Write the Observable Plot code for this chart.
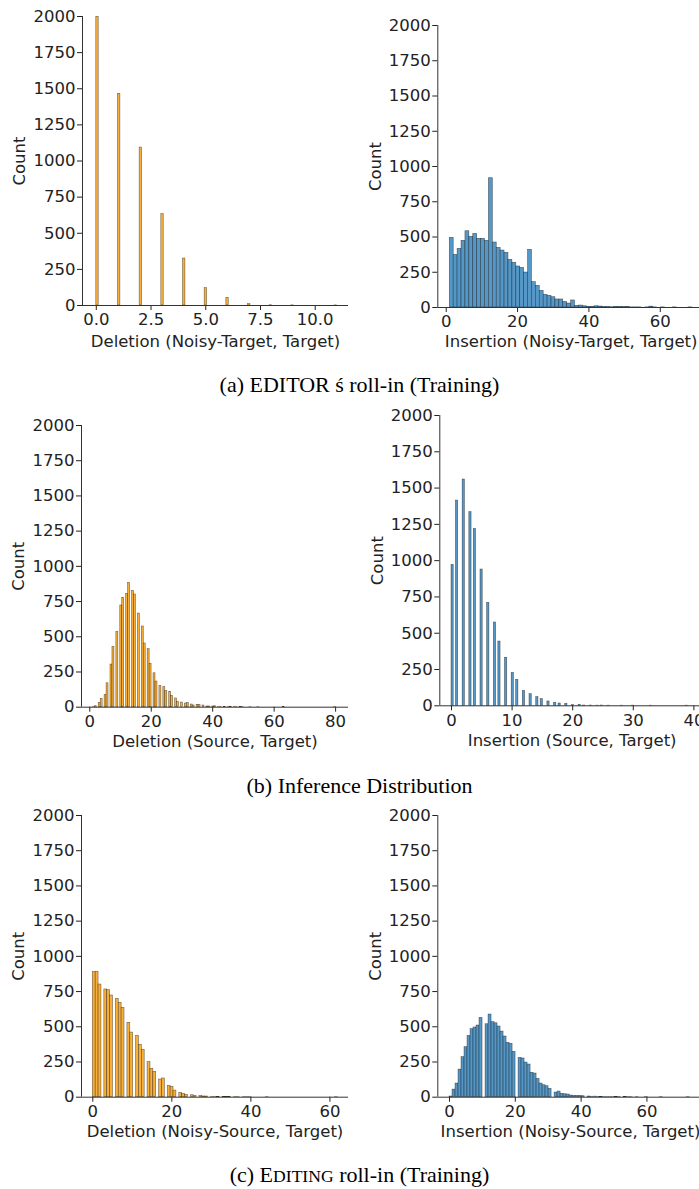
<!DOCTYPE html>
<html><head><meta charset="utf-8">
<script src="https://cdn.jsdelivr.net/npm/d3@7"></script>
<script src="https://cdn.jsdelivr.net/npm/@observablehq/plot@0.6"></script>
<style>
html,body{margin:0;padding:0;background:#fff;overflow:hidden;}
#root{position:relative;width:699px;height:1189px;overflow:hidden;background:#fff;}
.panel{position:absolute;}
.cap{position:absolute;left:0;width:719px;text-align:center;font-family:"Liberation Serif","Times New Roman",serif;font-size:22px;line-height:26px;color:#000;white-space:nowrap;}
.sc{font-size:0.8em;}
</style></head><body><div id="root"></div>
<script>
// ---------- DATA (integer edit distances and their counts) ----------
// (a) EDITOR's roll-in : Deletion (Noisy-Target, Target)
const delNoisyTargetValues = [0, 1, 2, 3, 4, 5, 6, 7, 8, 9, 11];
const delNoisyTargetCounts = [1998, 1465, 1093, 632, 325, 120, 53, 9, 2, 1, 1];
// (a) Insertion (Noisy-Target, Target)
const insNoisyTargetValues = [1, 2, 3, 4, 5, 6, 7, 8, 9, 10, 11, 12, 13, 14, 15, 16, 17, 18, 19, 20,
  21, 22, 23, 24, 25, 26, 27, 28, 29, 30, 31, 32, 33, 34, 35, 36, 37, 38, 39, 40,
  41, 42, 43, 44, 45, 46, 47, 48, 49, 50, 51, 52, 53, 54, 56, 57, 58, 59, 61, 64, 69];
const insNoisyTargetCounts = [250, 244, 373, 416, 473, 541, 501, 522, 487, 487, 473, 465, 452, 461, 423, 404, 388, 338, 317, 291,
  281, 248, 215, 194, 180, 154, 118, 90, 83, 73, 57, 57, 40, 28, 27, 23, 12, 14, 9, 5,
  5, 9, 7, 3, 3, 1, 1, 4, 4, 3, 4, 1, 1, 1, 1, 1, 5, 1, 1, 1, 1];
// (b) Inference : Deletion (Source, Target)
const delSourceValues = [1, 2, 3, 4, 5, 6, 7, 8, 9, 10, 11, 12, 13, 14, 15, 16, 17, 18, 19, 20,
  21, 22, 23, 24, 25, 26, 27, 28, 29, 30, 31, 32, 33, 34, 35, 36, 37, 38, 39, 40,
  41, 42, 43, 44, 45, 46, 47, 48, 49, 50, 52, 55, 63, 80];
const delSourceCounts = [1, 7, 31, 59, 88, 170, 303, 428, 535, 722, 776, 805, 883, 826, 800, 665, 573, 452, 412, 308,
  241, 182, 151, 142, 114, 109, 80, 62, 36, 33, 26, 31, 19, 12, 17, 17, 12, 5, 5, 5,
  7, 3, 3, 2, 3, 2, 3, 1, 2, 3, 1, 1, 2, 1];
// (b) Insertion (Source, Target)
const insSourceValues = [0, 1, 2, 3, 4, 5, 6, 7, 8, 9, 10, 11, 12, 13, 14, 15, 16, 17, 18, 19,
  20, 21, 22, 23, 24, 25, 26, 28, 30, 33, 39];
const insSourceCounts = [971, 1414, 1559, 1334, 1219, 939, 709, 574, 443, 331, 227, 179, 103, 80, 60, 46, 30, 21, 16, 14,
  5, 7, 2, 2, 1, 2, 1, 1, 1, 1, 1];
// (c) EDITING roll-in : Deletion (Noisy-Source, Target)
const delNoisySourceValues = [0, 1, 2, 3, 4, 5, 6, 7, 8, 9, 10, 11, 12, 13, 14, 15, 16, 17, 18, 19,
  20, 21, 22, 23, 24, 25, 26, 27, 28, 29, 30, 31, 32, 33, 34, 35, 36, 37, 38, 39, 40, 44, 62];
const delNoisySourceCounts = [888, 890, 800, 765, 760, 722, 698, 670, 634, 528, 459, 435, 372, 336, 249, 201, 180, 125, 133, 80,
  73, 47, 31, 24, 17, 14, 9, 9, 5, 5, 3, 3, 2, 2, 2, 2, 1, 1, 1, 1, 1, 1, 1];
// (c) Insertion (Noisy-Source, Target)
const insNoisySourceValues = [0, 1, 2, 3, 4, 5, 6, 7, 8, 9, 10, 11, 12, 13, 14, 15, 16, 17, 18, 19,
  20, 21, 22, 23, 24, 25, 26, 27, 28, 29, 30, 31, 32, 33, 34, 35, 36, 37, 38, 39,
  40, 41, 42, 43, 44, 45, 46, 47, 48, 49, 50, 51, 52, 53, 54, 55, 57, 60, 64, 73];
const insNoisySourceCounts = [5, 54, 97, 196, 284, 355, 435, 483, 495, 509, 563, 518, 587, 533, 525, 502, 466, 431, 386, 379,
  322, 279, 275, 246, 232, 173, 168, 130, 97, 85, 78, 59, 33, 40, 24, 21, 19, 12, 9, 9,
  9, 7, 5, 3, 4, 3, 2, 1, 1, 1, 1, 2, 3, 2, 1, 1, 1, 1, 1, 1];

// histogram bin specifications [low, high, number of bins]
const binsDelNoisyTarget = [0, 11, 100];
const binsInsNoisyTarget = [1, 69, 62];
const binsDelSource = [1, 80, 124];
const binsInsSource = [0, 39, 106];
const binsDelNoisySource = [0, 62, 85];
const binsInsNoisySource = [0, 73, 80];

const yTicks = [0, 250, 500, 750, 1000, 1250, 1500, 1750, 2000];
const xTicksDelNoisyTarget = [0, 2.5, 5, 7.5, 10];
const xTicks20to60 = [0, 20, 40, 60];
const xTicks20to80 = [0, 20, 40, 60, 80];
const xTicks10to40 = [0, 10, 20, 30, 40];

const xLabels = ["Deletion (Noisy-Target, Target)", "Insertion (Noisy-Target, Target)",
  "Deletion (Source, Target)", "Insertion (Source, Target)",
  "Deletion (Noisy-Source, Target)", "Insertion (Noisy-Source, Target)"];
const captions = ["(a) EDITOR ś roll-in (Training)", "(b) Inference Distribution",
  "(c) E<span class=\"sc\">DITING</span> roll-in (Training)"];

// ---------- rendering ----------
const ORANGE = "#f9b03a";
const BLUE = "#5597c6";

function histogram(values, counts, [lo, hi, n]) {
  const w = (hi - lo) / n;
  const sums = new Map();
  values.forEach((v, i) => {
    let k = Math.floor((v - lo) / w + 1e-9);
    if (k >= n) k = n - 1;
    sums.set(k, (sums.get(k) || 0) + counts[i]);
  });
  return Array.from(sums, ([k, c]) => ({x1: lo + k * w, x2: lo + (k + 1) * w, count: c}));
}

const panels = [
  {v: delNoisyTargetValues, c: delNoisyTargetCounts, b: binsDelNoisyTarget, color: ORANGE, ticks: xTicksDelNoisyTarget, fmt: ".1f",
   left: 0, top: 0, width: 350, height: 360, ml: 82, mr: 2, mt: 16, mb: 55, dom: [-0.63, 11.52], lo: 41},
  {v: insNoisyTargetValues, c: insNoisyTargetCounts, b: binsInsNoisyTarget, color: BLUE, ticks: xTicks20to60, fmt: "d",
   left: 350, top: 0, width: 360, height: 360, ml: 87.3, mr: 6, mt: 25, mb: 53, dom: [-2.36, 72.4], lo: 39},
  {v: delSourceValues, c: delSourceCounts, b: binsDelSource, color: ORANGE, ticks: xTicks20to80, fmt: "d",
   left: 0, top: 400, width: 350, height: 360, ml: 81, mr: 2, mt: 25, mb: 53.3, dom: [-2.7, 84.2], lo: 40},
  {v: insSourceValues, c: insSourceCounts, b: binsInsSource, color: BLUE, ticks: xTicks10to40, fmt: "d",
   left: 350, top: 400, width: 360, height: 360, ml: 89.3, mr: 6, mt: 15, mb: 54.7, dom: [-1.93, 41.75], lo: 40},
  {v: delNoisySourceValues, c: delNoisySourceCounts, b: binsDelNoisySource, color: ORANGE, ticks: xTicks20to60, fmt: "d",
   left: 0, top: 790, width: 350, height: 360, ml: 81, mr: 2, mt: 25, mb: 53.3, dom: [-2.86, 64.7], lo: 40},
  {v: insNoisySourceValues, c: insNoisySourceCounts, b: binsInsNoisySource, color: BLUE, ticks: xTicks20to60, fmt: "d",
   left: 350, top: 790, width: 360, height: 360, ml: 87.3, mr: 7.3, mt: 25, mb: 53.3, dom: [-3.56, 77.1], lo: 40}
];

const root = document.getElementById("root");
panels.forEach((p, i) => {
  const data = histogram(p.v, p.c, p.b);
  const chart = Plot.plot({
    width: p.width, height: p.height,
    marginLeft: p.ml, marginRight: p.mr, marginTop: p.mt, marginBottom: p.mb,
    style: {fontFamily: "'DejaVu Sans', sans-serif", fontSize: "16.5px", color: "#222", background: "transparent", overflow: "visible"},
    x: {domain: p.dom, ticks: p.ticks, tickFormat: d3.format(p.fmt), tickSize: 5, tickPadding: 3,
        label: xLabels[i], labelAnchor: "center", labelOffset: p.lo, labelArrow: "none"},
    y: {domain: [0, 2000], ticks: yTicks, tickFormat: d => String(d), tickSize: 5, tickPadding: 2,
        label: "Count", labelAnchor: "center", labelOffset: 69, labelArrow: "none"},
    marks: [
      Plot.rectY(data, {x1: "x1", x2: "x2", y: "count", fill: p.color, stroke: "#000", strokeOpacity: 0.55, strokeWidth: 0.6}),
      Plot.ruleY([0], {stroke: "#333", strokeWidth: 1}),
      Plot.ruleX([p.dom[0]], {stroke: "#333", strokeWidth: 1})
    ]
  });
  chart.classList.add("panel");
  chart.style.left = p.left + "px";
  chart.style.top = p.top + "px";
  root.appendChild(chart);
});

const capTops = [371.6, 772.6, 1161.6];
captions.forEach((t, i) => {
  const d = document.createElement("div");
  d.className = "cap";
  d.style.top = capTops[i] + "px";
  d.innerHTML = t;
  root.appendChild(d);
});
</script></body></html>
